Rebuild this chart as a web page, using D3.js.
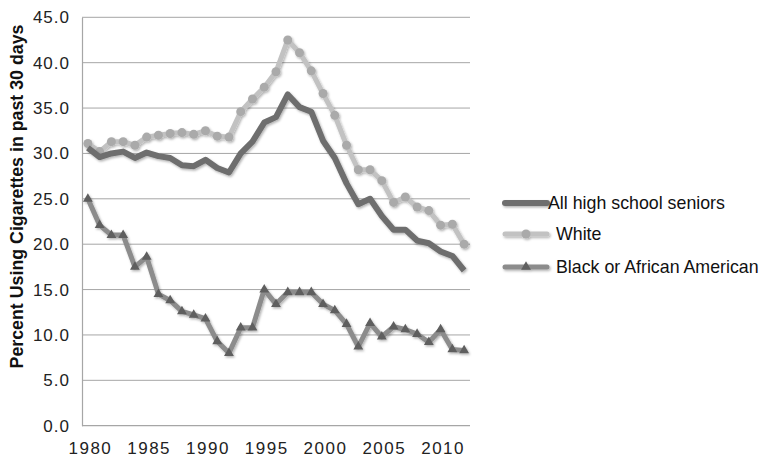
<!DOCTYPE html>
<html>
<head>
<meta charset="utf-8">
<script src="https://cdn.jsdelivr.net/npm/d3@7"></script>
<style>
  body { margin: 0; background: #fff; }
  svg { font-family: "Liberation Sans", Arial, sans-serif; }
</style>
</head>
<body>
<svg id="chart" width="764" height="457"></svg>
<script>
// data
var years = d3.range(1980, 2013);
var allSeniors = [30.6, 29.6, 30.0, 30.2, 29.5, 30.1, 29.7, 29.5, 28.7, 28.6, 29.3, 28.4, 27.9,
    30.0, 31.3, 33.4, 34.0, 36.5, 35.1, 34.6, 31.4, 29.5, 26.7, 24.4, 25.0, 23.1, 21.6,
    21.6, 20.4, 20.1, 19.2, 18.7, 17.1];
var white = [31.1, 30.2, 31.3, 31.3, 30.9, 31.8, 32.0, 32.2, 32.3, 32.1, 32.5, 31.9, 31.8,
    34.6, 36.0, 37.3, 39.0, 42.5, 41.1, 39.1, 36.6, 34.2, 30.9, 28.2, 28.2, 27.0, 24.6,
    25.2, 24.1, 23.7, 22.1, 22.2, 20.0];
var black = [25.0, 22.1, 21.0, 21.0, 17.5, 18.6, 14.5, 13.8, 12.6, 12.2, 11.8, 9.3, 8.0,
    10.8, 10.8, 15.0, 13.4, 14.7, 14.7, 14.7, 13.4, 12.7, 11.2, 8.7, 11.3, 9.8, 10.9,
    10.6, 10.1, 9.2, 10.6, 8.4, 8.3];
var yTicks = [0, 5, 10, 15, 20, 25, 30, 35, 40, 45];
var xTicks = [1980, 1985, 1990, 1995, 2000, 2005, 2010];
var seriesNames = ['All high school seniors', 'White', 'Black or African American'];

var svg = d3.select('#chart');

var plot = {l: 82, r: 470, t: 17.3, b: 425.7};

var xScale = d3.scalePoint()
    .domain(years)
    .range([plot.l, plot.r])
    .padding(0.5);

var yScale = d3.scaleLinear()
    .domain([0, 45])
    .range([plot.b, plot.t]);

// soft drop shadow like the original (user space so flat lines keep it)
var defs = svg.append('defs');
var f = defs.append('filter').attr('id', 'shadow')
    .attr('filterUnits', 'userSpaceOnUse')
    .attr('x', 0).attr('y', 0).attr('width', 764).attr('height', 457);
f.append('feDropShadow')
    .attr('dx', 1.2).attr('dy', 1.5)
    .attr('stdDeviation', 1.2)
    .attr('flood-color', '#000')
    .attr('flood-opacity', 0.3);

// gridlines
svg.append('g').selectAll('line')
    .data(yTicks.slice(1))
    .enter().append('line')
    .attr('x1', plot.l).attr('x2', plot.r)
    .attr('y1', function(d) { return yScale(d); })
    .attr('y2', function(d) { return yScale(d); })
    .attr('stroke', '#a6a6a6')
    .attr('stroke-width', 1);

// y axis
var yAxis = svg.append('g')
    .attr('transform', 'translate(' + plot.l + ',0)')
    .call(d3.axisLeft(yScale).tickValues(yTicks).tickSize(0).tickPadding(12)
        .tickFormat(d3.format('.1f')));
yAxis.select('.domain').attr('stroke', '#a6a6a6').attr('stroke-width', 1.2);
yAxis.selectAll('text')
    .attr('font-size', 17)
    .attr('letter-spacing', 1)
    .attr('fill', '#222')
    .attr('font-family', '"Liberation Sans", Arial, sans-serif');

// x axis
var xAxis = svg.append('g')
    .attr('transform', 'translate(0,' + plot.b + ')')
    .call(d3.axisBottom(xScale).tickValues(xTicks).tickSize(0).tickPadding(16));
xAxis.select('.domain').attr('stroke', '#a6a6a6').attr('stroke-width', 1.2)
    .attr('d', 'M' + plot.l + ',0H' + plot.r);
xAxis.selectAll('text')
    .attr('font-size', 17)
    .attr('letter-spacing', 1.5)
    .attr('dx', 2)
    .attr('fill', '#222')
    .attr('font-family', '"Liberation Sans", Arial, sans-serif');

// y axis title
svg.append('text')
    .attr('transform', 'translate(23,' + 196.5 + ') rotate(-90)')
    .attr('text-anchor', 'middle')
    .attr('font-size', 17.8)
    .attr('font-weight', 'bold')
    .attr('fill', '#111')
    .text('Percent Using Cigarettes in past 30 days');

var line = d3.line()
    .x(function(d) { return xScale(d.year); })
    .y(function(d) { return yScale(d.value); });

function toPoints(values) {
    return values.map(function(v, i) { return {year: years[i], value: v}; });
}

var triangle = d3.symbol().type(d3.symbolTriangle).size(42);

// black or african american
var gBlack = svg.append('g').attr('filter', 'url(#shadow)');
gBlack.append('path')
    .datum(toPoints(black))
    .attr('d', line)
    .attr('fill', 'none')
    .attr('stroke', '#8c8c8c')
    .attr('stroke-width', 5)
    .attr('stroke-linejoin', 'round');
gBlack.selectAll('.tri')
    .data(toPoints(black))
    .enter().append('path')
    .attr('class', 'tri')
    .attr('d', triangle)
    .attr('transform', function(d) { return 'translate(' + xScale(d.year) + ',' + yScale(d.value) + ')'; })
    .attr('fill', '#5e5e5e');

// white
var gWhite = svg.append('g').attr('filter', 'url(#shadow)');
gWhite.append('path')
    .datum(toPoints(white))
    .attr('d', line)
    .attr('fill', 'none')
    .attr('stroke', '#c2c2c2')
    .attr('stroke-width', 5)
    .attr('stroke-linejoin', 'round');
gWhite.selectAll('circle')
    .data(toPoints(white))
    .enter().append('circle')
    .attr('cx', function(d) { return xScale(d.year); })
    .attr('cy', function(d) { return yScale(d.value); })
    .attr('r', 4.5)
    .attr('fill', '#aaaaaa');

// all seniors
var gAll = svg.append('g').attr('filter', 'url(#shadow)');
gAll.append('path')
    .datum(toPoints(allSeniors))
    .attr('d', line)
    .attr('fill', 'none')
    .attr('stroke', '#6e6e6e')
    .attr('stroke-width', 6)
    .attr('stroke-linejoin', 'round');

// legend
var legY = [203, 234, 267];
var legColors = ['#6e6e6e', '#c2c2c2', '#8c8c8c'];
var legText = [548, 556, 556];
var legend = svg.append('g');
seriesNames.forEach(function(name, i) {
    var g = legend.append('g').attr('filter', 'url(#shadow)');
    g.append('line')
        .attr('x1', 505).attr('x2', 547)
        .attr('y1', legY[i]).attr('y2', legY[i])
        .attr('stroke', legColors[i])
        .attr('stroke-width', i == 0 ? 6 : 5)
        .attr('stroke-linecap', 'round');
    if (i == 1) {
        g.append('circle').attr('cx', 526).attr('cy', legY[i]).attr('r', 4.5).attr('fill', '#aaaaaa');
    }
    if (i == 2) {
        g.append('path').attr('d', triangle)
            .attr('transform', 'translate(526,' + legY[i] + ')')
            .attr('fill', '#5e5e5e');
    }
    legend.append('text')
        .attr('x', legText[i])
        .attr('y', legY[i])
        .attr('dy', '0.35em')
        .attr('font-size', 17.8)
        .attr('fill', '#111')
        .text(name);
});
</script>
</body>
</html>
